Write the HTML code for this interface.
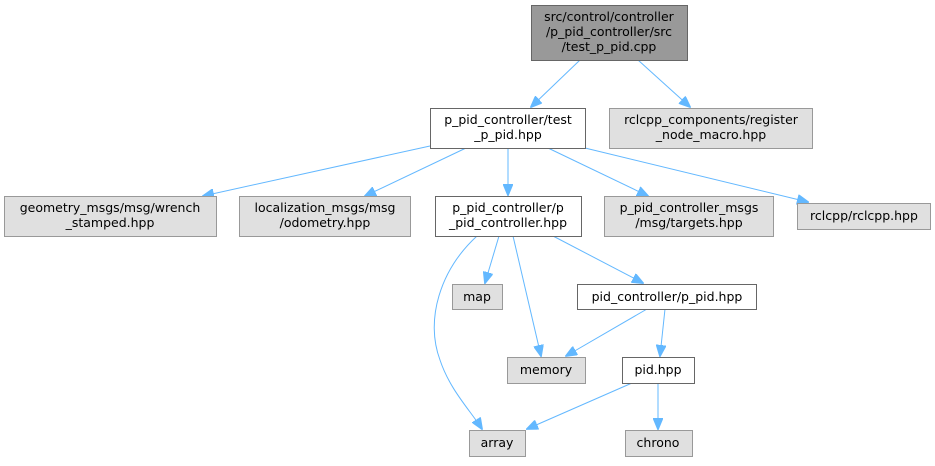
<!DOCTYPE html>
<html><head><style>
body{margin:0;background:#fff;}
svg text{font-family:"DejaVu Sans","Liberation Sans",sans-serif;font-size:12.5px;fill:#000;text-anchor:middle;}
.g{fill:#e0e0e0;stroke:#999;stroke-width:1}
.w{fill:#fff;stroke:#666;stroke-width:1}
.e{fill:none;stroke:#63b8ff;stroke-width:1}
.a{fill:#63b8ff;stroke:#63b8ff}
</style></head><body>
<svg width="935" height="461" viewBox="0 0 935 461">
<defs><marker id="m" markerWidth="12" markerHeight="10" refX="11" refY="5" orient="auto" markerUnits="userSpaceOnUse"><path d="M0,0 L12,5 L0,10 z" class="a"/></marker></defs>
<path class="e" marker-end="url(#m)" d="M580,60 L531,107"/>
<path class="e" marker-end="url(#m)" d="M638,60 L690,107"/>
<path class="e" marker-end="url(#m)" d="M430,146 L203,196"/>
<path class="e" marker-end="url(#m)" d="M466,148 L365,196"/>
<path class="e" marker-end="url(#m)" d="M508,148 L508,195"/>
<path class="e" marker-end="url(#m)" d="M548,148 L648,196"/>
<path class="e" marker-end="url(#m)" d="M585,148 L808,202"/>
<path class="e" marker-end="url(#m)" d="M499,236 L485,283"/>
<path class="e" marker-end="url(#m)" d="M513,236 L541,356"/>
<path class="e" marker-end="url(#m)" d="M553,236 L643,283"/>
<path class="e" marker-end="url(#m)" d="M477,236 C440,270 425,320 440,360 C450,390 470,410 482,429"/>
<path class="e" marker-end="url(#m)" d="M647,309 L566,356"/>
<path class="e" marker-end="url(#m)" d="M665,309 L660,356"/>
<path class="e" marker-end="url(#m)" d="M632,383 L527,429"/>
<path class="e" marker-end="url(#m)" d="M658,383 L658,429"/>
<rect x="531.5" y="5.5" width="156" height="55" style="fill:#999;stroke:#666"/>
<text x="609" y="21">src/control/controller</text><text x="609" y="36">/p_pid_controller/src</text><text x="609" y="51">/test_p_pid.cpp</text>
<rect class="w" x="430.5" y="108.5" width="155" height="40"/>
<text x="508" y="124">p_pid_controller/test</text><text x="508" y="139">_p_pid.hpp</text>
<rect class="g" x="609.5" y="108.5" width="203" height="40"/>
<text x="711" y="124">rclcpp_components/register</text><text x="711" y="139">_node_macro.hpp</text>
<rect class="g" x="4.5" y="196.5" width="212" height="40"/>
<text x="110" y="212">geometry_msgs/msg/wrench</text><text x="110" y="227">_stamped.hpp</text>
<rect class="g" x="239.5" y="196.5" width="171" height="40"/>
<text x="325" y="212">localization_msgs/msg</text><text x="325" y="227">/odometry.hpp</text>
<rect class="w" x="435.5" y="196.5" width="146" height="40"/>
<text x="508" y="212">p_pid_controller/p</text><text x="508" y="227">_pid_controller.hpp</text>
<rect class="g" x="604.5" y="196.5" width="169" height="40"/>
<text x="689" y="212">p_pid_controller_msgs</text><text x="689" y="227">/msg/targets.hpp</text>
<rect class="g" x="797.5" y="203.5" width="133" height="26"/>
<text x="864" y="220">rclcpp/rclcpp.hpp</text>
<rect class="g" x="452.5" y="284.5" width="50" height="25"/>
<text x="477" y="301">map</text>
<rect class="w" x="577.5" y="284.5" width="179" height="25"/>
<text x="667" y="301">pid_controller/p_pid.hpp</text>
<rect class="g" x="507.5" y="357.5" width="78" height="26"/>
<text x="546" y="374">memory</text>
<rect class="w" x="622.5" y="357.5" width="72" height="26"/>
<text x="658" y="374">pid.hpp</text>
<rect class="g" x="469.5" y="430.5" width="56" height="26"/>
<text x="497" y="447">array</text>
<rect class="g" x="625.5" y="430.5" width="67" height="26"/>
<text x="658" y="447">chrono</text>
</svg>
</body></html>
